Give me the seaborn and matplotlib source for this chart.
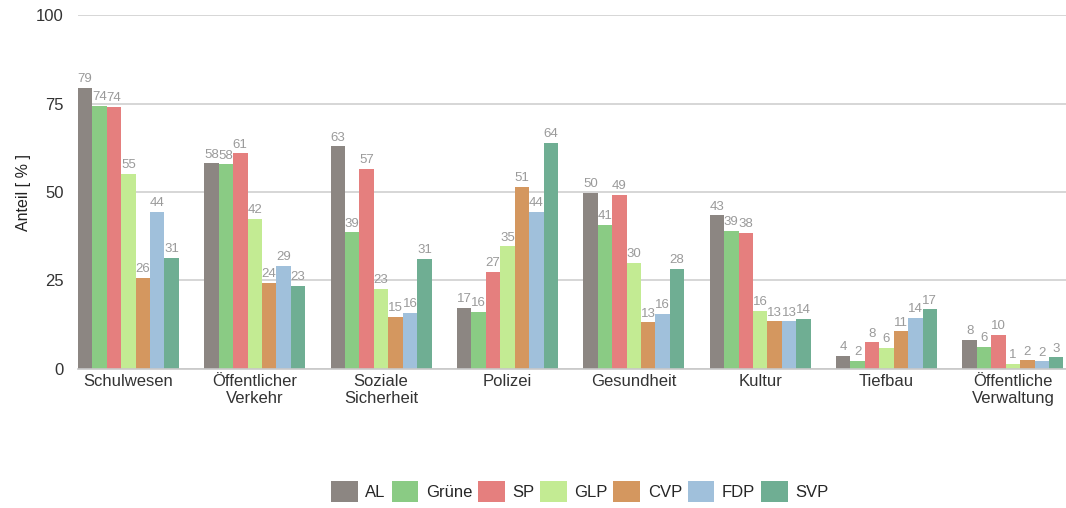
import pandas as pd
import numpy as np
import matplotlib.pyplot as plt
import seaborn as sns

categories = ["Schulwesen", "Öffentlicher\nVerkehr", "Soziale\nSicherheit", "Polizei",
              "Gesundheit", "Kultur", "Tiefbau", "Öffentliche\nVerwaltung"]
parties = ["AL", "Grüne", "SP", "GLP", "CVP", "FDP", "SVP"]
colors = ["#8c8682", "#8acb84", "#e57f7e", "#c3eb93", "#d4975f", "#a0c0db", "#6fae93"]

AL = [79.4, 58.1, 62.9, 17.2, 49.8, 43.4, 3.7, 8.1]
Grune = [74.3, 57.8, 38.6, 16.1, 40.8, 39.0, 2.2, 6.1]
SP = [74.0, 60.9, 56.6, 27.4, 49.2, 38.4, 7.5, 9.6]
GLP = [55.1, 42.3, 22.6, 34.6, 29.9, 16.4, 5.9, 1.4]
CVP = [25.7, 24.4, 14.7, 51.4, 13.1, 13.4, 10.6, 2.4]
FDP = [44.4, 29.0, 15.8, 44.4, 15.6, 13.4, 14.3, 2.1]
SVP = [31.3, 23.4, 31.0, 63.8, 28.3, 14.2, 16.8, 3.2]

values = [AL, Grune, SP, GLP, CVP, FDP, SVP]
rows = []
for p, vals in zip(parties, values):
    for c, v in zip(categories, vals):
        rows.append({"Bereich": c, "Partei": p, "Anteil": v})
df = pd.DataFrame(rows)

sns.set_style("white")
plt.rcParams['font.family'] = ['Liberation Sans', 'DejaVu Sans']

fig = plt.figure(figsize=(10.66, 5.08), dpi=100)
ax = fig.add_axes([0.073, 0.274, 0.927, 0.696])

sns.barplot(data=df, x="Bereich", y="Anteil", hue="Partei", order=categories,
            hue_order=parties, palette=colors, width=0.8, saturation=1,
            linewidth=0, ax=ax, legend=True)

for cont in ax.containers:
    ax.bar_label(cont, labels=[f"{v:.0f}" for v in cont.datavalues],
                 color="#9a9a9a", fontsize=9.5, padding=2)

ax.set_ylim(0, 100)
ax.set_xlim(-0.4, 7.42)
ax.set_yticks([0, 25, 50, 75, 100])
ax.yaxis.grid(True, color="#d0d0d0", linewidth=1.2)
ax.set_axisbelow(True)
for s in ["top", "right", "left"]:
    ax.spines[s].set_visible(False)
ax.spines["bottom"].set_color("#c8c8c8")
ax.spines["bottom"].set_linewidth(1.2)
ax.tick_params(axis="both", length=0, labelsize=12, colors="#333333")
ax.tick_params(axis="y", pad=10)
ax.set_xlabel("")
ax.set_ylabel("Anteil [ % ]", fontsize=11.5, color="#222222", labelpad=4)

ax.legend(loc="upper center", bbox_to_anchor=(0.508, -0.275), ncol=7, frameon=False,
          fontsize=12, handlelength=1.6, handleheight=1.6, handletextpad=0.45,
          columnspacing=0.35)

fig.savefig("out.png", dpi=100)
